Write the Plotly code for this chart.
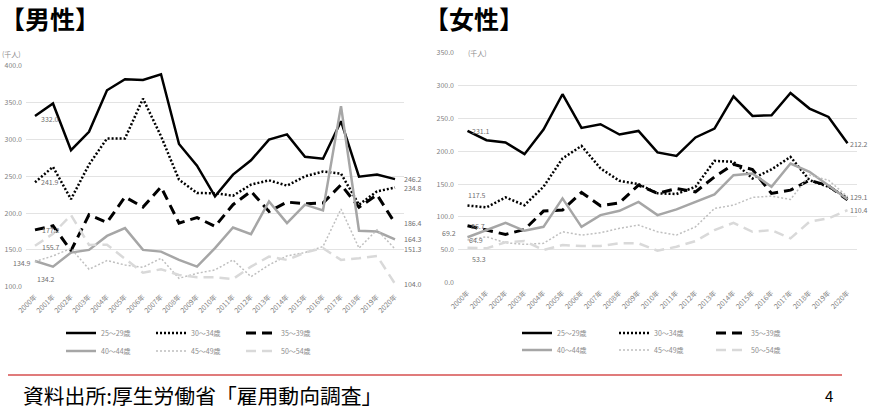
import plotly.graph_objects as go

years = [f"{y}年" for y in range(2000, 2021)]
ages = ["25～29歳", "30～34歳", "35～39歳", "40～44歳", "45～49歳", "50～54歳"]

# 男性 (千人)
m25 = [332.0, 349, 285.5, 310.6, 367, 382, 381, 388.8, 294, 264.6, 222.8, 252.4, 271.9, 300, 307, 276.5, 274, 325, 249.6, 252.4, 246.2]
m30 = [241.9, 262.9, 219, 266, 301.5, 301.5, 355.6, 304.6, 245.5, 227.4, 227, 223.7, 238.7, 244.6, 237.4, 250, 256.5, 253.7, 211.5, 229.6, 234.8]
m35 = [177.2, 182.8, 149, 197.8, 187.3, 222, 208.3, 235.6, 186.4, 194, 182, 211.5, 229.6, 202.3, 215, 212.8, 213.7, 238.6, 208, 225, 186.4]
m40 = [134.9, 127.3, 146.4, 150, 169, 179.6, 150, 147.7, 136.4, 127.3, 152.4, 180.5, 171.4, 216, 186.4, 211.5, 203.7, 345.5, 176, 175, 164.3]
m45 = [134.2, 141.9, 152, 123.7, 135.5, 129.6, 126.4, 138.6, 111.4, 118.2, 122.8, 136.4, 113.6, 129.6, 141.9, 146.4, 154.6, 205.6, 152.4, 177.4, 151.3]
m50 = [155.7, 172, 197.5, 156.8, 157, 138.6, 119, 123.7, 116, 112.8, 112.8, 110.5, 127.3, 141, 136.4, 146.4, 152.4, 136.4, 138.6, 141.9, 104.0]

# 女性 (千人)
f25 = [231.1, 216.9, 213.4, 195.6, 233, 286.8, 235.6, 241.2, 225.5, 231, 198.2, 193, 221, 234.6, 283.7, 253.8, 254.9, 288.8, 265, 252.3, 212.2]
f30 = [117.5, 114.6, 129.8, 118, 146, 189, 208.2, 173.9, 155, 150, 136, 135, 146, 185.4, 184, 158.6, 172.3, 191.5, 156, 146, 129.1]
f35 = [86.7, 80, 73.5, 81, 109, 110.5, 137.4, 117, 121.6, 148.5, 135.8, 143.4, 138.3, 161, 180, 172.3, 135.8, 140.9, 156, 147.4, 126]
f40 = [69.2, 80, 91.2, 79, 85, 128.3, 85, 102.9, 109.4, 123, 102.9, 111.5, 123, 134.3, 163.7, 166.2, 146, 181.4, 168.7, 147.4, 127]
f45 = [64.9, 70, 60.8, 58.4, 59.9, 77.5, 72.5, 76, 82.7, 87.7, 77.5, 72.5, 85, 113, 118, 129.8, 131.8, 126.7, 163.7, 156, 131]
f50 = [53.3, 52.3, 61.4, 63.4, 49.7, 57.3, 55.8, 55.8, 59.9, 59.9, 48.7, 54.7, 63.4, 80, 91.2, 77.5, 80, 67.5, 92.7, 97.9, 110.4]

male = [m25, m30, m35, m40, m45, m50]
female = [f25, f30, f35, f40, f45, f50]

styles = [
    dict(color="#000000", width=2.5, dash="solid"),
    dict(color="#000000", width=2.5, dash="2px,2px"),
    dict(color="#000000", width=3, dash="10px,6px"),
    dict(color="#a6a6a6", width=2.5, dash="solid"),
    dict(color="#bfbfbf", width=1.5, dash="2px,2px"),
    dict(color="#d9d9d9", width=2.5, dash="10px,6px"),
]

W, H = 870, 419
FONT = "Noto Sans CJK JP"
fig = go.Figure()

legs_left = ["legend", "legend", "legend", "legend2", "legend2", "legend2"]
legs_right = ["legend3", "legend3", "legend3", "legend4", "legend4", "legend4"]

for i in range(6):
    fig.add_trace(go.Scatter(x=years, y=male[i], mode="lines", name=ages[i], line=styles[i],
                             xaxis="x", yaxis="y", legend=legs_left[i], hoverinfo="skip"))
for i in range(6):
    fig.add_trace(go.Scatter(x=years, y=female[i], mode="lines", name=ages[i], line=styles[i],
                             xaxis="x2", yaxis="y2", legend=legs_right[i], hoverinfo="skip"))

def px_x(p):
    return p / W

def px_y(p):
    return 1 - p / H

tickfont = dict(family=FONT, size=7, color="#7f7f7f")
grid = "#e3e3e3"

fig.update_layout(
    width=W, height=H,
    margin=dict(l=0, r=0, t=0, b=0, autoexpand=False),
    paper_bgcolor="white", plot_bgcolor="white",
    font=dict(family=FONT),
    xaxis=dict(domain=[px_x(26), px_x(404)], type="category", range=[-0.5, 20.5],
               tickangle=-45, tickfont=tickfont, showgrid=False, showline=False, automargin=False,
               zeroline=False, ticks="", ticklabelstandoff=4, anchor="y"),
    yaxis=dict(domain=[px_y(286.7), px_y(66)], range=[100, 400], dtick=50, tickformat=".1f",
               tickfont=tickfont, gridcolor=grid, gridwidth=1, zeroline=False, showline=False,
               automargin=False, ticks="", ticklabelstandoff=3, anchor="x"),
    xaxis2=dict(domain=[px_x(458), px_x(857)], type="category", range=[-0.5, 20.5],
                tickangle=-45, tickfont=tickfont, showgrid=False, showline=False, automargin=False,
                zeroline=False, ticks="", ticklabelstandoff=4, anchor="y2"),
    yaxis2=dict(domain=[px_y(282.7), px_y(52.7)], range=[0, 350], dtick=50, tickformat=".1f",
                tickfont=tickfont, gridcolor=grid, gridwidth=1, zeroline=False, showline=False,
                automargin=False, ticks="", ticklabelstandoff=3, anchor="x2"),
)

legfont = dict(family=FONT, size=7, color="#8c8c8c")
common_leg = dict(orientation="h", xanchor="left", yanchor="middle", font=legfont,
                  bgcolor="rgba(0,0,0,0)", entrywidthmode="pixels",
                  itemwidth=30, tracegroupgap=0)
fig.update_layout(
    legend=dict(x=px_x(61), y=px_y(333), entrywidth=45, **common_leg),
    legend2=dict(x=px_x(61), y=px_y(351), entrywidth=45, **common_leg),
    legend3=dict(x=px_x(517), y=px_y(333), entrywidth=52, **common_leg),
    legend4=dict(x=px_x(517), y=px_y(350), entrywidth=52, **common_leg),
)

lab_font = dict(family=FONT, size=7, color="#6f6f6f")
ann = []

def lab(xref, yref, idx, val, dx, dy, anchor="center"):
    ann.append(dict(xref=xref, yref=yref, x=years[idx], y=val, text=f"{val:.1f}",
                    showarrow=False, xshift=dx, yshift=dy, font=lab_font,
                    xanchor=anchor, yanchor="middle"))

# male labels
lab("x", "y", 0, m25[0], 15, -3)
lab("x", "y", 0, m30[0], 15, 0)
lab("x", "y", 0, m35[0], 16, 0)
lab("x", "y", 0, m50[0], 16, -1)
lab("x", "y", 0, m40[0], -13, -2)
lab("x", "y", 0, m45[0], 11, -17)
for s in male:
    lab("x", "y", 20, s[20], 7, 0, "left")
# female labels
lab("x2", "y2", 0, f25[0], 13, 0)
lab("x2", "y2", 0, f30[0], 9, 10)
lab("x2", "y2", 0, f35[0], 10, 0)
lab("x2", "y2", 0, f40[0], -19, 4)
lab("x2", "y2", 0, f45[0], 8, 0)
lab("x2", "y2", 0, f50[0], 11, -11)
lab("x2", "y2", 20, f25[20], 0, -1, "left")
lab("x2", "y2", 20, f30[20], 0, 1, "left")
lab("x2", "y2", 20, f50[20], 0, 0, "left")

def note(x, y, text, size, color="#000000", xa="center", bold=False):
    t = f"<b>{text}</b>" if bold else text
    ann.append(dict(xref="paper", yref="paper", x=px_x(x), y=px_y(y), text=t, showarrow=False,
                    xanchor=xa, yanchor="middle", font=dict(family=FONT, size=size, color=color)))

note(11, 54, "(千人)", 7, "#8c8c8c")
note(478, 53, "(千人)", 7, "#8c8c8c")
note(-2, 18, "【男性】", 25, bold=True, xa="left")
note(422, 18, "【女性】", 25, bold=True, xa="left")
note(21, 395, "資料出所:厚生労働省「雇用動向調査」", 20.8, xa="left")
note(829, 395, "4", 15)

fig.update_layout(annotations=ann)
fig.add_shape(type="line", xref="paper", yref="paper", x0=px_x(8), x1=px_x(842),
              y0=px_y(375), y1=px_y(375), line=dict(color="#e07b7b", width=2))

fig.write_html("out.html", config={"displayModeBar": False},
               post_script="document.body.style.margin='0px';")
